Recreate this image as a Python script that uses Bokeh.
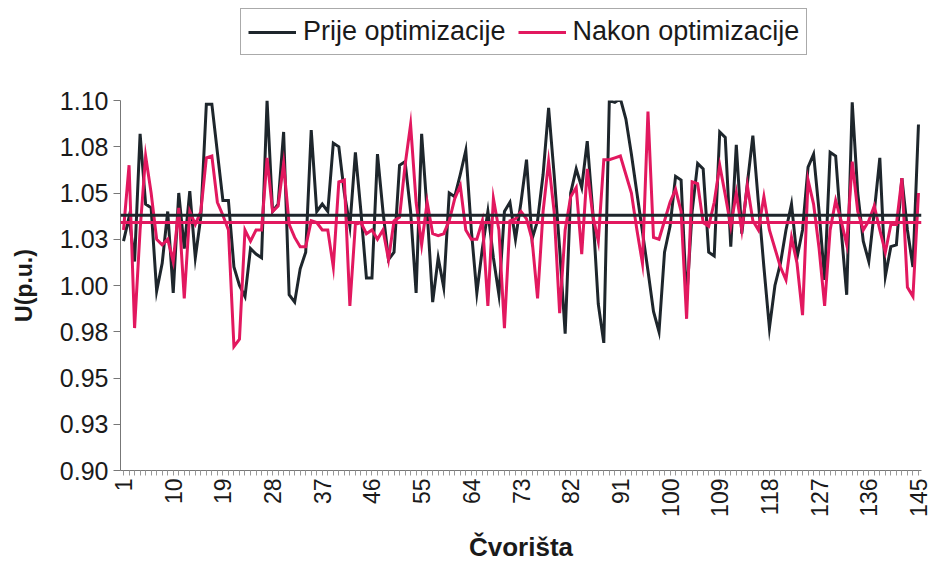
from bokeh.plotting import figure
from bokeh.layouts import column
from bokeh.models import Range1d, FixedTicker, Span, Legend, LegendItem
from bokeh.embed import file_html
from bokeh.resources import INLINE
import math

# ---- data ----
cvorista = list(range(1, 146))

prije = [
    1.024, 1.037, 1.013, 1.082, 1.044, 1.042, 0.997, 1.012, 1.040, 0.996,
    1.050, 1.020, 1.051, 1.015, 1.037, 1.098, 1.098, 1.072, 1.046, 1.046,
    1.010, 1.000, 0.994, 1.020, 1.017, 1.015, 1.100, 1.040, 1.044, 1.083,
    0.995, 0.991, 1.009, 1.018, 1.084, 1.040, 1.044, 1.040, 1.077, 1.075,
    1.050, 1.032, 1.072, 1.040, 1.004, 1.004, 1.071, 1.040, 1.014, 1.018,
    1.065, 1.067, 1.040, 0.996, 1.082, 1.040, 0.991, 1.015, 0.999, 1.050,
    1.048, 1.060, 1.073, 1.030, 0.996, 1.020, 1.040, 1.015, 0.995, 1.040,
    1.045, 1.025, 1.045, 1.068, 1.025, 1.035, 1.060, 1.096, 1.060, 1.020,
    0.974, 1.050, 1.063, 1.053, 1.078, 1.040, 0.990, 0.969, 1.100, 1.099,
    1.101, 1.090, 1.071, 1.050, 1.029, 1.008, 0.986, 0.975, 1.018, 1.032,
    1.059, 1.057, 0.992, 1.040, 1.066, 1.063, 1.018, 1.016, 1.083, 1.080,
    1.021, 1.076, 1.028, 1.055, 1.081, 1.045, 1.010, 0.977, 1.000, 1.012,
    1.030, 1.044, 1.015, 1.030, 1.064, 1.071, 1.040, 1.003, 1.072, 1.070,
    1.030, 0.995, 1.099, 1.050, 1.024, 1.013, 1.040, 1.069, 1.005, 1.021,
    1.022, 1.058, 1.030, 1.010, 1.087,
]

nakon = [
    1.030, 1.065, 0.977, 1.030, 1.070, 1.050, 1.025, 1.022, 1.025, 1.013,
    1.042, 0.993, 1.040, 1.033, 1.040, 1.069, 1.070, 1.045, 1.038, 1.030,
    0.967, 0.971, 1.030, 1.024, 1.030, 1.030, 1.069, 1.040, 1.043, 1.066,
    1.033, 1.026, 1.021, 1.021, 1.035, 1.034, 1.030, 1.030, 1.010, 1.056,
    1.057, 0.989, 1.033, 1.034, 1.028, 1.030, 1.025, 1.030, 1.014, 1.035,
    1.037, 1.065, 1.087, 1.045, 1.022, 1.045, 1.028, 1.027, 1.028, 1.035,
    1.047, 1.054, 1.030, 1.025, 1.025, 1.035, 0.989, 1.047, 1.030, 0.977,
    1.035, 1.036, 1.040, 1.036, 1.025, 0.993, 1.040, 1.067, 1.040, 0.985,
    1.030, 1.048, 1.053, 1.017, 1.063, 1.038, 1.024, 1.068, 1.068, 1.069,
    1.070, 1.060, 1.050, 1.030, 1.012, 1.094, 1.026, 1.025, 1.035, 1.045,
    1.052, 1.040, 0.982, 1.056, 1.055, 1.034, 1.032, 1.045, 1.065, 1.049,
    1.032, 1.050, 1.030, 1.054, 1.035, 1.030, 1.048, 1.030, 1.020, 1.010,
    1.003, 1.026, 1.012, 0.984, 1.057, 1.044, 1.020, 0.989, 1.030, 1.046,
    1.035, 1.022, 1.067, 1.040, 1.030, 1.035, 1.043, 1.030, 1.018, 1.033,
    1.033, 1.058, 0.999, 0.994, 1.050,
]

prosjek_prije = 1.038
prosjek_nakon = 1.034

y_ticks = [0.90, 0.925, 0.95, 0.975, 1.00, 1.025, 1.05, 1.075, 1.10]
y_tick_labels = ["0.90", "0.93", "0.95", "0.98", "1.00", "1.03", "1.05", "1.08", "1.10"]
x_label_ticks = list(range(1, 146, 9))
series_names = ["Prije optimizacije", "Nakon optimizacije"]

BLACK = "#1e262c"
PINK = "#e2185f"
FONT = "Liberation Sans"
TXT = "#1a1a1a"
W = 932

# ---- legend strip (top) ----
pl = figure(width=W, height=85, output_backend="svg", toolbar_location=None,
            x_range=Range1d(0, 1), y_range=Range1d(0, 1),
            min_border_left=120, min_border_right=11, min_border_top=0, min_border_bottom=0)
pl.axis.visible = False
pl.grid.visible = False
pl.outline_line_color = None
pl.border_fill_color = "white"
# legend-only renderers, placed outside the visible range
l1 = pl.line(x=[-5, -4], y=[-5, -4], line_color=BLACK, line_width=3)
l2 = pl.line(x=[-5, -4], y=[-5, -4], line_color=PINK, line_width=3)
legend = Legend(items=[LegendItem(label=series_names[0], renderers=[l1]),
                       LegendItem(label=series_names[1], renderers=[l2])],
                orientation="horizontal", location=(120, 30))
legend.label_text_font = FONT
legend.label_text_font_size = "27px"
legend.label_text_color = TXT
legend.border_line_color = "#555555"
legend.border_line_width = 1
legend.background_fill_alpha = 1
legend.glyph_width = 48
legend.spacing = 12
legend.padding = 7
legend.margin = 0
legend.label_standoff = 7
pl.add_layout(legend, "center")

# ---- main chart ----
p = figure(width=W, height=483, output_backend="svg", toolbar_location=None,
           x_range=Range1d(0.45, 145.55), y_range=Range1d(0.90, 1.10),
           min_border_left=120, min_border_right=11, min_border_top=15,
           min_border_bottom=98)
p.outline_line_color = None
p.grid.visible = False
p.background_fill_color = "white"
p.border_fill_color = "white"

p.line(cvorista, prije, line_color=BLACK, line_width=3, line_join="miter")
p.line(cvorista, nakon, line_color=PINK, line_width=3, line_join="miter")

p.add_layout(Span(location=prosjek_nakon, dimension="width", line_color=PINK, line_width=3))
p.add_layout(Span(location=prosjek_prije, dimension="width", line_color=BLACK, line_width=3))

# y axis
p.yaxis.ticker = FixedTicker(ticks=y_ticks)
p.yaxis.major_label_overrides = {t: l for t, l in zip(y_ticks, y_tick_labels)}
p.yaxis.minor_tick_line_color = None
p.yaxis.major_tick_in = 0
p.yaxis.major_tick_out = 7
p.yaxis.axis_line_color = "#777777"
p.yaxis.major_tick_line_color = "#777777"
p.yaxis.major_label_text_font = FONT
p.yaxis.major_label_text_font_size = "25px"
p.yaxis.major_label_text_color = TXT
p.yaxis.major_label_standoff = 5
p.yaxis.axis_label = "U(p.u.)"
p.yaxis.axis_label_text_font = FONT
p.yaxis.axis_label_text_font_style = "bold"
p.yaxis.axis_label_text_font_size = "23px"
p.yaxis.axis_label_text_color = TXT
p.yaxis.axis_label_standoff = 20

# x axis
p.xaxis.ticker = FixedTicker(ticks=cvorista)
p.xaxis.major_label_overrides = {i: (str(i) if i in x_label_ticks else "") for i in cvorista}
p.xaxis.minor_tick_line_color = None
p.xaxis.major_tick_in = 0
p.xaxis.major_tick_out = 5
p.xaxis.axis_line_color = "#777777"
p.xaxis.major_tick_line_color = "#999999"
p.xaxis.major_label_orientation = math.pi / 2
p.xaxis.major_label_text_font = FONT
p.xaxis.major_label_text_font_size = "23px"
p.xaxis.major_label_text_color = TXT
p.xaxis.major_label_standoff = 3
p.xaxis.axis_label = "Čvorišta"
p.xaxis.axis_label_text_font = FONT
p.xaxis.axis_label_text_font_style = "bold"
p.xaxis.axis_label_text_font_size = "26px"
p.xaxis.axis_label_text_color = TXT
p.xaxis.axis_label_standoff = 12

layout = column(pl, p, spacing=0)
open("out.html", "w").write(file_html(layout, INLINE))
